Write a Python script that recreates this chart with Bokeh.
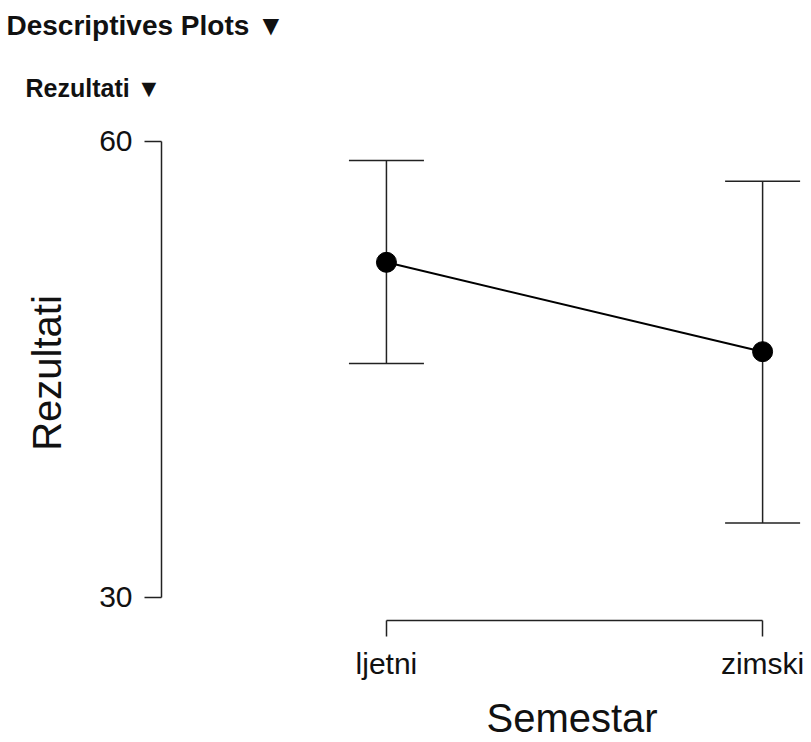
from bokeh.plotting import figure
from bokeh.models import (Range1d, LinearAxis, FixedTicker, ColumnDataSource,
                          Whisker, TeeHead, Title)
from bokeh.embed import file_html
from bokeh.resources import INLINE

# ---- data ----
semestar = ["ljetni", "zimski"]
rezultati_mean = [52.05, 46.17]
ci_upper = [58.75, 57.39]
ci_lower = [45.40, 34.90]
y_ticks = [30, 60]
x_title = "Semestar"
y_title = "Rezultati"
header = "Descriptives Plots \u25BC"
subheader = "Rezultati \u25BC"

FONT = "Liberation Sans"
INK = "#111111"
LINE = "#222222"

xpos = list(range(len(semestar)))
src = ColumnDataSource(dict(x=xpos, mean=rezultati_mean, upper=ci_upper, lower=ci_lower))

p = figure(width=811, height=742, output_backend="svg", toolbar_location=None,
           x_range=Range1d(-0.598, 1.130), y_range=Range1d(28.486, 61.05),
           x_axis_location=None, y_axis_location=None,
           min_border_left=161, min_border_right=0,
           min_border_top=125, min_border_bottom=122)
p.outline_line_color = None
p.background_fill_color = "white"
p.border_fill_color = "white"
for g in p.grid:
    g.visible = False

# axes
xaxis = LinearAxis(ticker=FixedTicker(ticks=xpos),
                   major_label_overrides={i: s for i, s in zip(xpos, semestar)},
                   bounds=(xpos[0], xpos[-1]))
yaxis = LinearAxis(ticker=FixedTicker(ticks=y_ticks), bounds=(min(y_ticks), max(y_ticks)),
                   axis_label=y_title)
for ax in (xaxis, yaxis):
    ax.axis_line_color = LINE
    ax.axis_line_width = 1.5
    ax.major_tick_line_color = LINE
    ax.major_tick_line_width = 1.5
    ax.major_tick_in = 0
    ax.minor_tick_line_color = None
    ax.major_label_text_font = FONT
    ax.major_label_text_font_size = "30px"
    ax.major_label_text_color = INK
    ax.axis_label_text_font = FONT
    ax.axis_label_text_font_size = "40px"
    ax.axis_label_text_font_style = "normal"
    ax.axis_label_text_color = INK
xaxis.major_tick_out = 16
xaxis.major_label_standoff = 10
yaxis.major_tick_out = 17
yaxis.major_label_standoff = 12
yaxis.axis_label_standoff = 27
p.add_layout(xaxis, "below")
p.add_layout(yaxis, "left")

# blank spacer row between the tick labels and the x title
p.add_layout(Title(text=" ", standoff=0, text_font=FONT, text_font_size="8px"), "below")

# x-axis title, centred under the category bracket
p.add_layout(Title(text=x_title, align="left", offset=325, standoff=0,
                   vertical_align="bottom",
                   text_font=FONT, text_font_size="40px", text_font_style="normal",
                   text_color=INK), "below")

# error bars
eb = Whisker(source=src, base="x", upper="upper", lower="lower",
             line_color=LINE, line_width=1.5,
             upper_head=TeeHead(size=75, line_color=LINE, line_width=1.5),
             lower_head=TeeHead(size=75, line_color=LINE, line_width=1.5))
p.add_layout(eb)

p.line("x", "mean", source=src, line_color="black", line_width=2)
p.scatter("x", "mean", source=src, size=20, fill_color="black", line_color="black")

# headers
p.add_layout(Title(text=subheader, align="left", offset=-136, standoff=48,
                   text_font=FONT, text_font_size="25px", text_font_style="bold",
                   text_color=INK), "above")
p.add_layout(Title(text=header, align="left", offset=-155, standoff=13,
                   text_font=FONT, text_font_size="28px", text_font_style="bold",
                   text_color=INK), "above")

open("out.html", "w").write(file_html(p, INLINE))
